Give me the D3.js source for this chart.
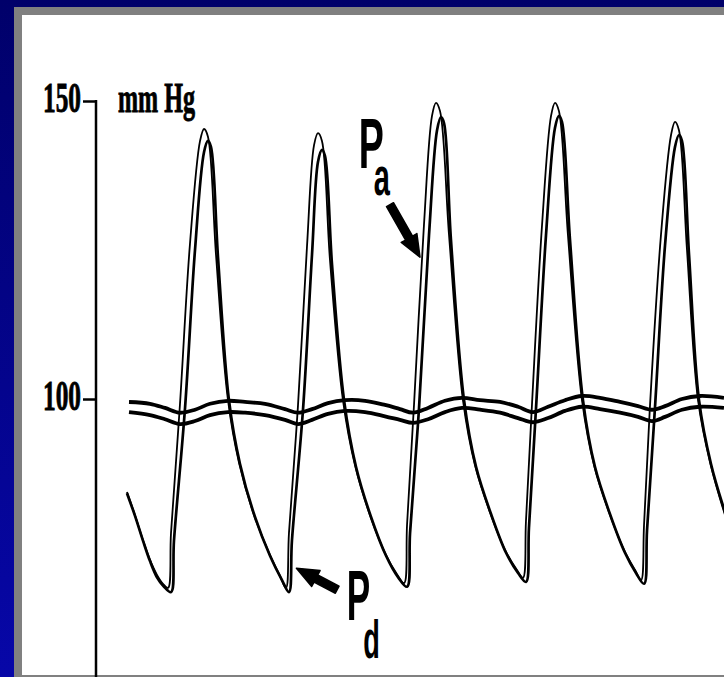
<!DOCTYPE html>
<html>
<head>
<meta charset="utf-8">
<script src="https://cdn.jsdelivr.net/npm/d3@7"></script>
<style>
  body { margin: 0; background: #000070; }
  svg { display: block; }
</style>
</head>
<body>
<svg id="chart" width="724" height="677"></svg>
<script>
// time in seconds, pressure in mm Hg
const paTrace = [
  [0.258,84.4],[0.325,80.5],[0.392,76.3],[0.450,73.0],[0.508,70.5],[0.558,69.0],[0.600,68.3],
  [0.625,77.5],[0.700,99.2],[0.783,126.0],[0.867,143.3],[0.900,145.3],
  [0.933,144.0],[1.000,124.2],[1.100,99.8],[1.192,89.3],[1.317,80.5],[1.442,74.2],[1.533,70.3],[1.583,68.3],
  [1.608,77.5],[1.683,98.8],[1.758,125.5],[1.817,142.6],[1.850,144.6],
  [1.883,143.3],[1.950,123.3],[2.058,99.8],[2.158,88.9],[2.283,80.5],[2.408,74.2],[2.508,70.6],[2.567,69.1],
  [2.592,78.9],[2.650,99.0],[2.733,129.2],[2.800,147.5],[2.833,149.7],
  [2.867,148.3],[2.942,127.5],[3.058,99.8],[3.158,88.9],[3.283,81.0],[3.408,74.7],[3.508,71.3],[3.558,70.0],
  [3.583,79.5],[3.633,99.0],[3.717,129.2],[3.792,147.5],[3.825,149.7],
  [3.858,148.3],[3.933,127.5],[4.050,99.8],[4.150,88.9],[4.275,81.0],[4.400,74.7],[4.492,71.3],[4.542,69.6],
  [4.567,78.9],[4.617,99.0],[4.708,127.5],[4.792,144.3],[4.825,146.5],
  [4.858,145.1],[4.925,125.0],[5.017,99.8],[5.117,89.4],[5.250,80.0]
];

const pdTrace = [
  [0.258,84.2],[0.325,80.4],[0.392,76.2],[0.450,72.8],[0.508,70.1],[0.567,68.5],[0.625,67.6],
  [0.650,76.3],[0.742,98.5],[0.825,125.0],[0.900,141.4],[0.933,143.3],
  [0.958,142.3],[1.017,123.7],[1.108,99.8],[1.200,89.1],[1.325,80.2],[1.450,73.7],[1.550,69.6],[1.608,67.6],
  [1.633,76.3],[1.725,98.2],[1.800,124.2],[1.850,139.8],[1.883,141.8],
  [1.908,140.8],[1.967,122.5],[2.067,99.8],[2.167,88.6],[2.292,80.2],[2.417,73.7],[2.517,70.1],[2.592,68.5],
  [2.617,77.5],[2.692,98.5],[2.775,127.5],[2.842,145.1],[2.875,147.3],
  [2.900,146.3],[2.958,126.7],[3.067,99.8],[3.167,88.6],[3.292,80.7],[3.417,74.2],[3.517,70.8],[3.583,69.3],
  [3.608,78.4],[3.667,98.5],[3.750,127.5],[3.825,145.5],[3.858,147.5],
  [3.883,146.5],[3.950,126.7],[4.058,99.8],[4.158,88.6],[4.283,80.7],[4.408,74.2],[4.500,70.8],[4.567,69.0],
  [4.592,78.0],[4.658,98.5],[4.742,125.8],[4.825,142.3],[4.858,144.3],
  [4.883,143.3],[4.942,124.2],[5.025,99.8],[5.125,89.1],[5.250,80.5]
];

// mean pressures (the two wavy lines near 100)
const paMean = [
  [0.275,99.5],[0.450,99.2],[0.575,98.5],[0.700,97.7],[0.825,98.2],[0.950,99.2],[1.100,99.7],[1.242,99.5],
  [1.408,99.2],[1.575,98.3],[1.683,97.7],[1.800,98.3],[1.933,99.3],[2.075,99.8],[2.242,99.7],[2.408,99.0],
  [2.533,98.3],[2.642,97.7],[2.767,98.5],[2.908,99.7],[3.050,100.2],[3.200,99.8],[3.367,99.5],[3.517,98.7],
  [3.642,97.8],[3.767,98.7],[3.908,99.8],[4.050,100.5],[4.200,100.2],[4.367,99.5],[4.517,98.8],[4.633,98.2],
  [4.742,98.8],[4.883,100.0],[5.033,100.5],[5.233,100.2]
];
const pdMean = [
  [0.275,97.8],[0.450,97.3],[0.575,96.6],[0.700,95.8],[0.825,96.3],[0.950,97.3],[1.100,97.8],[1.242,97.7],
  [1.408,97.3],[1.575,96.5],[1.683,95.8],[1.800,96.5],[1.933,97.5],[2.075,98.0],[2.242,97.8],[2.408,97.1],
  [2.533,96.5],[2.642,96.0],[2.767,96.6],[2.908,97.8],[3.050,98.5],[3.200,98.2],[3.367,97.7],[3.517,96.8],
  [3.642,96.1],[3.767,96.8],[3.908,98.0],[4.050,98.7],[4.200,98.3],[4.367,97.7],[4.517,97.0],[4.633,96.3],
  [4.742,97.0],[4.883,98.2],[5.033,98.7],[5.233,98.5]
];

const yTicks = [100, 150];
const unitLabel = "mm Hg";

// arrows: [tail, tip] in [s, mmHg]
const arrowPa = [[2.45,132.6],[2.70,123.8]];
const arrowPd = [[2.01,68.0],[1.67,71.6]];

let svg = d3.select("#chart"),
    width = +svg.attr("width"),
    height = +svg.attr("height");

let x = d3.scaleLinear().domain([0, 5.25]).range([96, 726]);
let y = d3.scaleLinear().domain([100, 150]).range([399, 101]);

// frame: blue background, grey rim, white sheet
let defs = svg.append("defs");
let grad = defs.append("linearGradient").attr("id", "bg")
    .attr("x1", 0).attr("y1", 0).attr("x2", 0).attr("y2", 1);
grad.append("stop").attr("offset", "0%").attr("stop-color", "#00006a");
grad.append("stop").attr("offset", "100%").attr("stop-color", "#0707a8");
defs.append("clipPath").attr("id", "sheet").append("rect")
    .attr("x", 22).attr("y", 15).attr("width", width - 22).attr("height", height - 17);

svg.append("rect").attr("width", width).attr("height", height).attr("fill", "url(#bg)");
svg.append("rect").attr("x", 14).attr("y", 7).attr("width", width - 14).attr("height", height - 7).attr("fill", "#808080");
svg.append("rect").attr("x", 22).attr("y", 15).attr("width", width - 22).attr("height", height - 17).attr("fill", "#fff");

let g = svg.append("g").attr("clip-path", "url(#sheet)");

let line = d3.line()
    .x(function(d) { return x(d[0]); })
    .y(function(d) { return y(d[1]); })
    .curve(d3.curveCatmullRom.alpha(0.5));

g.selectAll("path.mean")
  .data([paMean, pdMean])
  .enter().append("path")
    .attr("class", "mean")
    .attr("d", line)
    .attr("fill", "none")
    .attr("stroke", "#000")
    .attr("stroke-width", 3.8)
    .attr("stroke-linejoin", "round");

g.selectAll("path.trace")
  .data([paTrace, pdTrace])
  .enter().append("path")
    .attr("class", "trace")
    .attr("d", line)
    .attr("fill", "none")
    .attr("stroke", "#000")
    .attr("stroke-width", function(d, i) { return i ? 2.7 : 1.8; })
    .attr("stroke-linejoin", "round");

// y axis
let axis = svg.append("g")
    .attr("transform", "translate(" + x(0) + ",0)")
    .call(d3.axisLeft(y).tickValues(yTicks).tickSize(13).tickPadding(2).tickFormat(d3.format("d")));
axis.select(".domain").remove();
axis.selectAll(".tick line").attr("stroke", "#000").attr("stroke-width", 2.5);
axis.selectAll(".tick text")
    .attr("fill", "#000")
    .attr("stroke", "#000").attr("stroke-width", 0.9)
    .attr("dy", "0.24em")
    .style("font-family", "'Liberation Serif', serif")
    .style("font-weight", "bold")
    .style("font-size", "42px")
    .attr("textLength", 38)
    .attr("lengthAdjust", "spacingAndGlyphs");

svg.append("line")
    .attr("x1", x(0)).attr("x2", x(0))
    .attr("y1", y(150) - 1).attr("y2", height)
    .attr("stroke", "#000").attr("stroke-width", 2.5);

svg.append("text")
    .attr("x", 118).attr("y", 112)
    .attr("stroke", "#000").attr("stroke-width", 0.9)
    .style("font-family", "'Liberation Serif', serif")
    .style("font-weight", "bold")
    .style("font-size", "42px")
    .attr("textLength", 77)
    .attr("lengthAdjust", "spacingAndGlyphs")
    .text(unitLabel);

// labels Pa / Pd, the subscript as a tspan of the same text
function label(t, v, sub, subDx, subDy) {
  let lt = svg.append("text")
      .attr("x", x(t)).attr("y", y(v))
      .style("font-family", "'Liberation Sans', sans-serif")
      .style("font-weight", "bold");
  lt.append("tspan").style("font-size", "70px").text("P");
  lt.append("tspan").attr("dx", subDx).attr("dy", subDy).style("font-size", "54px").text(sub);
  return lt;
}
label(2.19, 138.8, "a", -19, 27).attr("textLength", 31).attr("lengthAdjust", "spacingAndGlyphs");
label(2.09, 62.9, "d", -14, 38).attr("textLength", 33).attr("lengthAdjust", "spacingAndGlyphs");

function arrow(a) {
  let x0 = x(a[0][0]), y0 = y(a[0][1]), x1 = x(a[1][0]), y1 = y(a[1][1]);
  let dx = x1 - x0, dy = y1 - y0, L = Math.sqrt(dx * dx + dy * dy);
  let ux = dx / L, uy = dy / L, nx = -uy, ny = ux;
  let sw = 4, hw = 9, hl = 22;
  let bx = x1 - ux * hl, by = y1 - uy * hl;
  let pts = [
    [x0 + nx * sw, y0 + ny * sw], [bx + nx * sw, by + ny * sw], [bx + nx * hw, by + ny * hw],
    [x1, y1], [bx - nx * hw, by - ny * hw], [bx - nx * sw, by - ny * sw], [x0 - nx * sw, y0 - ny * sw]
  ];
  svg.append("path")
      .attr("d", "M" + pts.map(function(p) { return p.join(","); }).join("L") + "Z")
      .attr("fill", "#000")
      .attr("stroke", "#000").attr("stroke-width", 1.5).attr("stroke-linejoin", "round");
}
arrow(arrowPa);
arrow(arrowPd);
</script>
</body>
</html>
